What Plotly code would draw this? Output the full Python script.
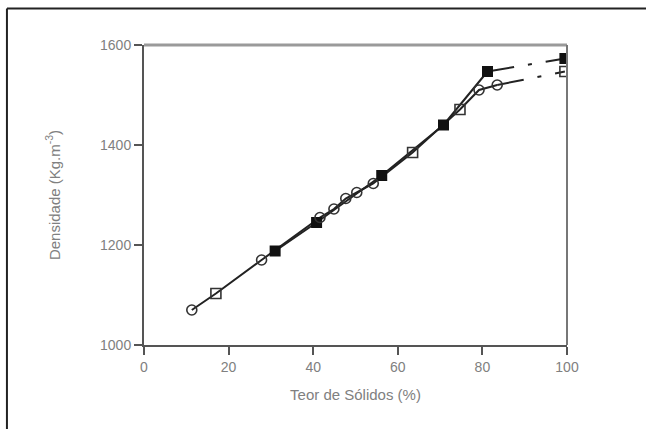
import plotly.graph_objects as go

# Filled-square series (solid line, dash-dot final segment)
filled_x = [31.0, 40.8, 56.2, 70.8, 81.2, 99.5]
filled_y = [1188, 1245, 1339, 1440, 1547, 1573]

# Open-marker series (solid line, dash-dot final segment)
open_x = [11.3, 17.0, 27.8, 41.6, 44.9, 47.7, 50.3, 54.2, 63.5, 74.7, 79.2, 83.5, 99.5]
open_y = [1070, 1103, 1170, 1255, 1272, 1293, 1305, 1323, 1385, 1471, 1510, 1520, 1547]
open_symbols = ["circle-open", "square-open", "circle-open", "circle-open", "circle-open",
                "circle-open", "circle-open", "circle-open", "square-open", "square-open",
                "circle-open", "circle-open", "square-open"]

x_ticks = [0, 20, 40, 60, 80, 100]
y_ticks = [1000, 1200, 1400, 1600]

LINE = "#222222"
DASH = "27px,14px,4px,14px"

fig = go.Figure()

# open series: solid part
fig.add_trace(go.Scatter(x=open_x[:-1], y=open_y[:-1], mode="lines",
                         line=dict(color=LINE, width=2), hoverinfo="skip", showlegend=False))
fig.add_trace(go.Scatter(x=open_x[-2:], y=open_y[-2:], mode="lines",
                         line=dict(color=LINE, width=2, dash=DASH), showlegend=False))
# filled series: solid part
fig.add_trace(go.Scatter(x=filled_x[:-1], y=filled_y[:-1], mode="lines",
                         line=dict(color=LINE, width=2), showlegend=False))
fig.add_trace(go.Scatter(x=filled_x[-2:], y=filled_y[-2:], mode="lines",
                         line=dict(color=LINE, width=2, dash=DASH), showlegend=False))
# markers
fig.add_trace(go.Scatter(x=filled_x, y=filled_y, mode="markers",
                         marker=dict(symbol="square", size=11, color="#111111"),
                         showlegend=False))
fig.add_trace(go.Scatter(x=open_x, y=open_y, mode="markers",
                         marker=dict(symbol=open_symbols, size=10, color="#333333",
                                     line=dict(width=1.6, color="#333333")),
                         showlegend=False))

tick_font = dict(family="Liberation Sans, Arial, sans-serif", size=14, color="#808080")
title_font = dict(family="Liberation Sans, Arial, sans-serif", size=15, color="#808080")

fig.update_layout(
    width=646, height=429,
    margin=dict(l=144, r=79, t=45, b=84),
    paper_bgcolor="white", plot_bgcolor="white",
    font=tick_font,
    xaxis=dict(range=[0, 100], tickvals=x_ticks, ticks="outside", ticklen=8, tickwidth=1.5,
               tickcolor="#555555", showline=True, linecolor="#555555", linewidth=2,
               showgrid=False, zeroline=False, tickfont=tick_font,
               title=dict(text="Teor de Sólidos (%)", font=title_font, standoff=16)),
    yaxis=dict(range=[1000, 1600], tickvals=y_ticks, ticks="outside", ticklen=8, tickwidth=1.5,
               tickcolor="#555555", showline=True, linecolor="#555555", linewidth=2,
               showgrid=False, zeroline=False, tickfont=tick_font,
               title=dict(text="Densidade (Kg.m<sup>-3</sup>)", font=title_font, standoff=36)),
    shapes=[
        # top axis border (gray, thick)
        dict(type="line", xref="paper", yref="paper", x0=0, x1=1, y0=1, y1=1,
             line=dict(color="#9a9a9a", width=3)),
        # right axis border
        dict(type="line", xref="paper", yref="paper", x0=1, x1=1, y0=0, y1=1,
             line=dict(color="#777777", width=2)),
        # outer figure frame (top and left only)
        dict(type="line", xref="paper", yref="paper", x0=-0.324, x1=1.3, y0=1.1217, y1=1.1217,
             line=dict(color="#222222", width=2)),
        dict(type="line", xref="paper", yref="paper", x0=-0.324, x1=-0.324, y0=1.1217, y1=-0.3,
             line=dict(color="#222222", width=2)),
    ],
)

fig.write_html("out.html")
